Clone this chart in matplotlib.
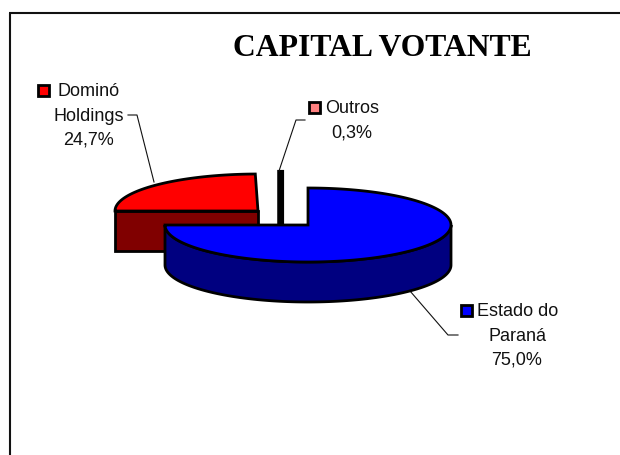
import numpy as np
import matplotlib
matplotlib.use('Agg')
import matplotlib.pyplot as plt
from matplotlib.patches import Polygon, Rectangle

plt.rcParams['font.family'] = ['Liberation Sans', 'DejaVu Sans']

names = ['Estado do\nParaná', 'Dominó\nHoldings', 'Outros']
values = [75.0, 24.7, 0.3]
pct_labels = ['75,0%', '24,7%', '0,3%']
top_colors = ['#0000ff', '#ff0000', '#ff8080']
side_colors = ['#000080', '#800000', '#804040']

W, H = 620, 456
RX, RY, DEPTH = 143, 37, 40
EDGE = 2.0

fig = plt.figure(figsize=(W / 100, H / 100), dpi=100)
ax = fig.add_axes([0, 0, 1, 1])
ax.set_xlim(0, W)
ax.set_ylim(H, 0)
ax.axis('off')


def arc(cx, cy, a1, a2):
    t = np.radians(np.linspace(a1, a2, 200))
    return np.column_stack([cx + RX * np.cos(t), cy - RY * np.sin(t)])


# blue slice starts at the top of the ellipse and runs clockwise
start_blue = 90
end_blue = start_blue - values[0] * 3.6
cx, cy = 308, 226
rim = arc(cx, cy, -180, 0)
wall = np.vstack([rim, rim[::-1] + [0, DEPTH]])
ax.add_patch(Polygon(wall, fc=side_colors[0], ec='black', lw=EDGE, zorder=5, joinstyle='miter'))
pts = arc(cx, cy, start_blue, end_blue)
ax.add_patch(Polygon(np.vstack([[cx, cy], pts]), fc=top_colors[0], ec='black', lw=EDGE, zorder=6,
                     joinstyle='miter'))

# Dominó: exploded up and left, starts where the blue one stops
end_red = end_blue - values[1] * 3.6
red_cx, red_cy = 258, 212
pts = arc(red_cx, red_cy, end_blue, end_red)
face = np.array([[red_cx - RX, red_cy], [red_cx, red_cy], [red_cx, red_cy + DEPTH],
                 [red_cx - RX, red_cy + DEPTH]])
ax.add_patch(Polygon(face, fc=side_colors[1], ec='black', lw=EDGE, zorder=2, joinstyle='miter'))
ax.add_patch(Polygon(np.vstack([[red_cx, red_cy], pts]), fc=top_colors[1], ec='black', lw=EDGE,
                     zorder=3, joinstyle='miter'))

# Outros: the sliver between the other two, nearly all outline, runs down behind the blue top
end_out = end_red - values[2] * 3.6
out_cx, out_cy = 282, 210
pts = arc(out_cx, out_cy, end_red, end_out)
face = np.array([pts[0], pts[-1], [pts[-1][0], out_cy + DEPTH], [pts[0][0], out_cy + DEPTH]])
ax.add_patch(Polygon(face, fc=side_colors[2], ec='black', lw=3.0, zorder=2, joinstyle='miter'))

# frame, open on the right and at the bottom like the source
ax.plot([9.5, 9.5], [H, 13.5], color='#111111', lw=1.5, zorder=1, solid_capstyle='butt')
ax.plot([9, W], [13.5, 13.5], color='#111111', lw=1.5, zorder=1, solid_capstyle='butt')

ax.text(382, 49, 'CAPITAL VOTANTE', family=['Liberation Serif'], weight='bold', fontsize=22.8,
        ha='center', va='center', color='black')

# leader lines
leader_x = [[410, 448, 458], [128, 137, 154], [305, 296, 279]]
leader_y = [[292, 336, 336], [116, 116, 183], [121, 121, 172]]
for lx, ly in zip(leader_x, leader_y):
    ax.plot(lx, ly, color='#111111', lw=0.8, zorder=4)


def label(x, y, lines, swatch_xy, color):
    for i, line in enumerate(lines):
        ax.text(x[i], y + i * 24.1, line, fontsize=13, ha='center', va='center', color='#111111')
    ax.add_patch(Rectangle(swatch_xy, 11, 11, fc=color, ec='black', lw=EDGE, zorder=7))


est = names[0].split('\n')
dom = names[1].split('\n')
label([518, 517, 517], 312, [est[0], est[1], pct_labels[0]], (461, 306), top_colors[0])
label([89, 88.5, 88.7], 92, [dom[0], dom[1], pct_labels[1]], (38, 86), top_colors[1])
label([352, 351.5], 109, [names[2], pct_labels[2]], (309, 103), top_colors[2])

fig.savefig('out.png', dpi=100)
